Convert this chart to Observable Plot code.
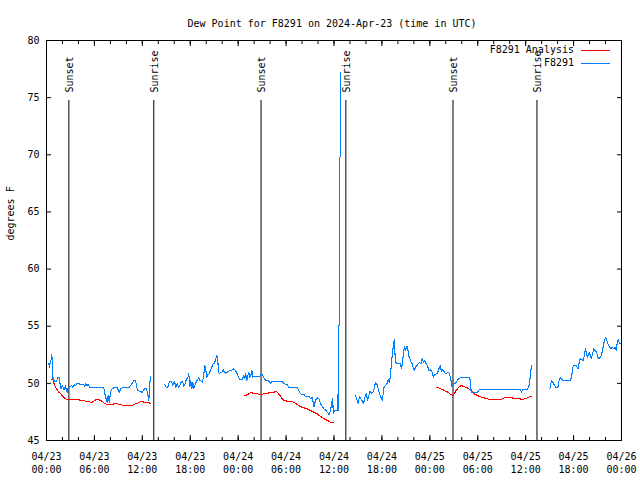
<!DOCTYPE html>
<html><head><meta charset="utf-8">
<script src="https://cdn.jsdelivr.net/npm/d3@7"></script>
<script src="https://cdn.jsdelivr.net/npm/@observablehq/plot@0.6"></script>
<style>body{margin:0;background:#fff}</style>
</head><body><div id="chart"></div>
<script>
const title = "Dew Point for F8291 on 2024-Apr-23 (time in UTC)";
const yLabel = "degrees F";
const startTime = "2024-04-23T00:00:00Z";
const endTime = "2024-04-26T00:00:00Z";
const yTicks = [45, 50, 55, 60, 65, 70, 75, 80];
const seriesNames = ["F8291 Analysis", "F8291"];
const seriesColors = ["#ff0000", "#0080ff"];

// Observations (F8291): hours since start, null = gap
const obsHours = [
0.29,0.38,0.46,0.58,0.67,0.75,0.83,1.04,1.25,1.46,1.59,1.67,1.79,1.96,2.09,2.21,2.38,2.50,2.63,2.71,2.88,3.13,3.30,3.46,3.63,3.80,4.05,4.26,4.47,4.67,4.80,4.92,5.09,5.22,5.38,5.55,7.18,7.30,7.47,7.60,7.72,7.85,7.97,8.10,8.22,8.43,8.85,8.97,9.14,9.27,9.47,10.31,10.52,10.73,10.93,11.14,11.23,11.39,11.98,12.10,12.31,12.48,12.65,12.81,12.94,13.02,
null,
14.82,14.98,15.19,15.40,15.65,15.82,16.03,16.20,16.36,16.53,16.70,16.86,17.03,17.20,17.36,17.53,17.70,17.82,17.95,18.07,18.20,18.32,18.45,18.57,18.74,18.91,19.07,19.20,19.37,19.53,19.70,19.82,19.95,20.07,20.20,20.37,20.53,20.70,20.87,21.03,21.20,21.33,21.45,21.54,21.66,21.79,21.95,22.12,22.29,22.45,22.62,22.83,23.04,23.25,23.46,23.67,23.88,24.09,24.29,24.50,24.71,24.84,24.96,25.09,25.21,25.34,25.46,25.59,25.71,25.84,26.04,26.38,26.71,26.92,27.09,27.30,27.51,27.93,28.05,28.26,29.52,29.73,30.14,30.35,30.56,31.39,31.60,31.81,32.02,32.23,32.44,32.86,33.07,33.28,33.49,33.70,33.91,34.12,34.33,34.54,34.74,34.95,35.16,35.37,35.58,35.71,35.83,35.92,36.04,36.50,36.55,36.68,36.70,36.76,36.78,
null,
38.69,38.90,39.03,39.19,39.36,39.53,39.70,39.87,40.03,40.20,40.37,40.53,40.70,40.87,41.03,41.20,41.37,41.53,41.70,41.87,42.03,42.16,42.28,42.45,42.62,42.78,42.91,43.03,43.16,43.29,43.41,43.54,43.66,43.79,44.29,44.46,44.58,44.71,44.83,44.96,45.08,45.21,45.33,45.46,45.58,45.75,45.92,46.04,46.21,46.38,46.54,46.71,46.88,47.04,47.21,47.38,47.54,47.71,47.88,48.08,48.29,48.46,48.63,48.79,48.96,49.13,49.29,49.46,49.63,49.79,49.96,50.13,50.29,50.46,50.63,50.76,50.88,51.01,51.22,51.43,51.63,51.84,53.01,53.09,53.18,53.30,53.72,53.93,54.05,54.22,59.36,59.48,59.61,60.19,60.40,60.52,60.65,60.77,
null,
63.03,63.11,63.28,63.44,63.61,63.78,64.03,64.19,64.36,64.53,64.69,65.61,65.78,65.90,66.03,66.28,66.45,66.57,66.70,66.82,67.03,67.20,67.36,67.49,67.61,67.74,67.86,67.99,68.12,68.24,68.37,68.53,68.70,68.87,69.03,69.20,69.37,69.53,69.70,69.87,70.03,70.20,70.37,70.53,70.70,70.87,71.03,71.20,71.33,71.45,71.58,71.70,71.83,71.95
];
const obsValues = [
51.7,51.36,51.85,52.06,52.52,51.42,50.25,50.19,50.19,50.54,50.54,50.10,49.52,49.81,49.67,49.43,49.81,49.37,49.23,49.61,49.67,49.81,49.67,49.87,49.81,49.96,49.96,49.90,49.87,49.90,49.72,49.96,49.81,49.90,49.67,49.61,49.61,49.08,48.65,48.35,48.94,48.35,48.94,49.43,49.52,49.61,49.61,49.43,49.23,49.52,49.61,49.61,49.81,50.02,50.25,50.25,49.96,49.37,49.23,49.37,49.52,49.52,49.23,48.50,49.96,50.60,
null,
49.90,49.67,49.67,50.19,50.19,49.81,50.19,49.67,49.96,49.67,49.81,50.10,50.19,49.72,49.96,50.40,50.48,50.83,49.72,50.25,49.52,50.10,49.52,49.81,50.10,50.31,50.48,50.25,50.19,50.10,50.83,51.56,51.12,50.54,50.77,50.83,51.12,51.42,51.71,51.77,52.15,52.44,52.00,50.98,50.83,50.98,50.98,51.18,50.98,50.89,50.98,51.07,51.12,51.18,51.27,51.12,50.83,50.48,50.31,50.31,50.69,50.40,50.83,50.25,50.69,50.98,50.54,50.69,51.12,50.54,50.63,50.63,50.63,50.89,50.69,50.40,50.25,50.19,49.96,50.19,50.19,49.96,49.90,49.67,49.61,49.61,49.37,49.08,49.02,49.02,48.85,48.85,48.65,48.79,47.92,48.56,48.73,48.65,48.21,47.97,47.77,47.68,47.48,47.27,47.62,48.35,48.65,47.33,47.62,47.62,55.0,55.1,69.7,69.8,77.2,
null,
48.94,48.50,48.27,48.85,48.65,48.50,48.21,48.79,49.14,48.50,48.94,49.32,49.14,49.23,49.52,50.10,49.96,49.52,49.08,48.79,48.50,49.08,49.72,49.81,49.96,50.31,50.10,50.48,51.42,52.44,53.17,53.81,52.29,51.71,51.71,51.27,51.85,52.73,53.22,52.87,53.17,53.22,52.44,52.29,51.94,51.77,51.36,51.12,51.42,51.56,51.71,51.85,51.71,52.15,51.85,52.00,51.71,51.56,51.12,51.18,51.00,50.54,50.77,50.83,50.89,51.27,51.56,51.00,51.18,51.00,50.83,50.89,51.00,50.83,50.40,49.72,49.90,49.96,50.02,50.25,50.40,50.48,50.48,49.96,49.23,49.17,49.17,49.23,49.32,49.49,49.49,49.17,49.49,49.49,49.72,50.25,51.12,51.56,
null,
49.52,49.87,50.25,50.05,49.81,49.67,49.67,50.25,50.54,50.34,50.25,50.25,50.69,51.42,51.56,51.56,51.42,51.27,51.85,52.15,52.09,52.00,52.44,53.02,52.58,52.29,52.58,52.73,52.29,52.15,52.58,53.02,52.87,52.73,52.29,52.15,52.29,52.58,53.17,53.75,54.04,53.66,53.31,53.17,53.02,53.17,53.02,53.17,52.87,53.46,53.84,53.60,53.46,53.55
];

// Analysis (F8291 Analysis): hours since start, null = gap
const anaHours = [
0.63,0.80,0.96,1.13,1.34,1.54,1.75,1.96,2.17,2.38,2.59,2.80,4.05,4.26,4.67,4.88,5.30,5.51,5.72,5.93,6.14,6.34,6.55,6.76,6.97,7.18,7.39,7.60,8.22,8.43,8.85,9.27,9.68,10.73,10.93,11.14,11.56,11.77,11.98,12.19,12.60,13.02,
null,
24.83,25.13,25.34,25.54,25.96,26.38,26.79,27.21,27.63,28.05,28.47,28.80,29.01,29.31,29.52,29.73,30.14,30.56,30.98,31.39,31.81,32.23,32.65,33.07,33.49,33.91,34.33,34.74,35.16,35.58,35.92,
null,
48.84,49.13,49.34,49.67,49.96,50.25,50.50,50.71,50.92,51.09,51.34,51.63,51.93,52.18,52.47,52.76,53.09,53.34,53.59,53.84,54.14,54.43,54.77,55.18,55.60,56.85,57.06,57.35,57.69,58.02,58.31,58.60,59.27,59.56,59.86,60.19,60.52,60.77
];
const anaValues = [
50.31,50.31,49.96,49.67,49.43,49.23,49.14,48.94,48.79,48.65,48.59,48.56,48.56,48.50,48.50,48.44,48.44,48.35,48.35,48.44,48.56,48.59,48.56,48.50,48.41,48.30,48.21,48.15,48.15,48.21,48.21,48.15,48.06,48.06,48.15,48.21,48.30,48.41,48.41,48.35,48.30,48.27,
null,
48.91,49.02,49.08,49.17,49.14,49.08,49.02,49.08,49.14,49.17,49.23,49.29,49.14,48.85,48.65,48.50,48.44,48.44,48.35,48.15,47.97,47.86,47.77,47.62,47.48,47.33,47.10,46.90,46.75,46.60,46.55,
null,
49.61,49.61,49.52,49.43,49.32,49.23,49.08,48.99,48.94,49.14,49.43,49.67,49.81,49.75,49.67,49.58,49.43,49.23,49.08,48.99,48.88,48.79,48.73,48.65,48.56,48.56,48.65,48.73,48.79,48.79,48.73,48.65,48.65,48.59,48.65,48.73,48.85,48.88
];

const sunsetTimes = ["2024-04-23T02:48Z", "2024-04-24T02:52Z", "2024-04-25T02:54Z"];
const sunriseTimes = ["2024-04-23T13:26Z", "2024-04-24T13:29Z", "2024-04-25T13:25Z"];
const sunLineTop = 74.75;

// ---- build tables ----
const t0 = new Date(startTime).getTime();
const toDate = h => h == null ? null : new Date(t0 + h * 3600e3);
const obs = obsHours.map((h, i) => ({time: toDate(h), value: obsValues[i]}));
const ana = anaHours.map((h, i) => ({time: toDate(h), value: anaValues[i]}));
const sun = [
  ...sunsetTimes.map(t => ({time: new Date(t), label: "Sunset", y1: yTicks[0], y2: sunLineTop})),
  ...sunriseTimes.map(t => ({time: new Date(t), label: "Sunrise", y1: yTicks[0], y2: sunLineTop}))
];

const font = "DejaVu Sans Mono";
const majorTicks = d3.utcHour.every(6).range(new Date(startTime), new Date(new Date(endTime).getTime() + 1));
const minorTicks = d3.utcHour.every(2).range(new Date(startTime), new Date(new Date(endTime).getTime() + 1));

const chart = Plot.plot({
  width: 640,
  height: 480,
  marginLeft: 46,
  marginRight: 19,
  marginTop: 40,
  marginBottom: 40,
  style: {fontFamily: font, fontSize: "10px", background: "#fff", color: "#000"},
  x: {type: "utc", domain: [new Date(startTime), new Date(endTime)], label: null},
  y: {domain: [yTicks[0], yTicks[yTicks.length - 1]], label: null},
  marks: [
    Plot.axisX({ticks: majorTicks, tickFormat: d3.utcFormat("%m/%d\n%H:%M"), tickSize: 0, tickPadding: 11, lineHeight: 1.25, fontSize: 10}),
    Plot.axisX({ticks: majorTicks, tickSize: -5, fill: "none"}),
    Plot.axisX({ticks: minorTicks, tickSize: -3, fill: "none"}),
    Plot.axisX({anchor: "top", ticks: majorTicks, tickSize: -5, fill: "none"}),
    Plot.axisX({anchor: "top", ticks: minorTicks, tickSize: -3, fill: "none"}),
    Plot.axisY({ticks: yTicks, tickSize: 0, tickPadding: 7, fontSize: 10}),
    Plot.axisY({ticks: yTicks, tickSize: -5, fill: "none"}),
    Plot.axisY({anchor: "right", ticks: yTicks, tickSize: -5, fill: "none"}),
    Plot.ruleX(sun, {x: "time", y1: "y1", y2: "y2", stroke: "#000", strokeWidth: 1}),
    Plot.text(sun, {x: "time", text: "label", rotate: -90, frameAnchor: "top", dy: 52, dx: -3, textAnchor: "start", fill: "#000", fontSize: 10}),
    Plot.line(ana, {x: "time", y: "value", stroke: seriesColors[0], strokeWidth: 1.1, shapeRendering: "crispEdges"}),
    Plot.line(obs, {x: "time", y: "value", stroke: seriesColors[1], strokeWidth: 1.1, shapeRendering: "crispEdges"}),
    Plot.frame({stroke: "#000"}),
    Plot.text([title], {frameAnchor: "top", dy: -21, dx: -2, fontSize: 10}),
    Plot.text([yLabel], {frameAnchor: "left", dx: -36, rotate: -90, fontSize: 10})
  ]
});

// legend (gnuplot-style, inside top-right)
const svg = d3.select(chart);
const legendRows = seriesNames.map((name, i) => ({name, color: seriesColors[i], y: 50 + i * 13}));
for (const r of legendRows) {
  svg.append("text").attr("x", 574).attr("y", r.y).attr("dy", "0.32em")
    .attr("text-anchor", "end").attr("font-family", font).attr("font-size", 10).attr("fill", "#000").text(r.name);
  svg.append("line").attr("x1", 581).attr("x2", 610).attr("y1", r.y + 0.5).attr("y2", r.y + 0.5)
    .attr("stroke", r.color).attr("stroke-width", 1).attr("shape-rendering", "crispEdges");
}
document.getElementById("chart").append(chart);
</script>
</body></html>
